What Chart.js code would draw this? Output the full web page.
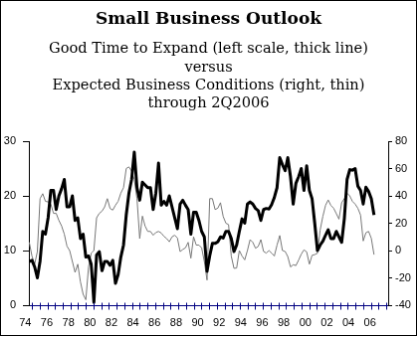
<!DOCTYPE html>
<html>
<head>
<meta charset="utf-8">
<script src="https://cdn.jsdelivr.net/npm/chart.js@4.4.1/dist/chart.umd.min.js"></script>
<style>
  html, body { margin: 0; padding: 0; background: #fff; }
  #myChart { display: block; border: 1px solid #000; }
</style>
</head>
<body>
<canvas id="myChart" width="417" height="336"></canvas>
<script>
// quarterly observations, 1974Q2 .. 2006Q2
var quarters = [];
for (var yr = 1974; yr <= 2006; yr++) {
    for (var q = 1; q <= 4; q++) {
        if ((yr === 1974 && q < 2) || (yr === 2006 && q > 2)) continue;
        quarters.push(yr + 'Q' + q);
    }
}

// "good time to expand", percent (left scale)
var goodTime = [
          8,  8.2,   7,          // 1974
    5,    8,  13.5, 13,          // 1975
    16,   21, 21,   17.5,
    20,   21.3, 23, 18,
    18,   20, 15.5, 16,
    12.2, 13, 8.8,  9,           // 1979
    7.5,  0.5, 9.2, 9.8,
    6.3,  8,  8,    7.3,
    8.2,  4,  5.6,  8.8,
    11,   16.5, 20.5, 23,
    28,   21.5, 19.2, 22.5,      // 1984
    22,   21.5, 21.5, 17.5,
    20.5, 26, 18.3, 19,
    18.3, 20, 18,   16,
    14,   18.5, 19.2, 18.3,
    17.5, 13, 17,   17,          // 1989
    15.5, 13.5, 12.5, 6.2,
    9,    11.3, 11.3, 11.6,
    12.5, 12.3, 13.5, 13.5,
    12.2, 9.8, 11,  13.5,
    15.8, 15, 18.5, 18.9,        // 1994
    18.5, 17.7, 17.3, 15.5,
    17.5, 17.7, 17.6, 18.4,
    19.7, 21.5, 27, 25.7,
    24.6, 27, 23.5, 18.5,
    22.3, 23.5, 25, 21,          // 1999
    25.5, 21, 19.5, 15,
    10,   11, 11.7, 12.8,
    13.8, 12.2, 12.2, 13.5,
    12.5, 11.5, 15.9, 23,
    24.8, 24.7, 25, 21.8,        // 2004
    21,   18.5, 21.6, 20.8,
    19.5, 16.5
];

// expected business conditions, net percent (right scale)
var conditions = [
          6,   -4,  -10,         // 1974
    -0.8, 38,  41.6, 36,
    35.6, 34,  27.2, 27.2,
    22,   18,  12,   3.2,
    0,    -8,  -16,  -10,
    -22.8, -32, -36, -12,        // 1979
    -2,   0,   24,   27.2,
    28.8, 32,  38,   30.8,
    29.6, 33.2, 36,  42,
    46,   60,  61.2, 58,
    52,   38,  8.8,  25.2,       // 1984
    18,   14,  14,   11.2,
    13.2, 14,  12.8, 10.4,
    8.8,  6.4, 10,   11.2,
    9.2,  -0.8, 0.8, 2,
    6,    -5.6, 10,  4,          // 1989
    4,    2,   -8,   -21.6,
    38,   38,  30,   31,
    35,   25,  20,   19,
    -4,   -13, -12.8, 0,
    -4,   -6.8, 0,   8,          // 1994
    6,    1.7, 3,    8,
    -0.7, -1.9, 0,   -1.9,
    -4,   4,   11,   0,
    -0.7, -4.4, -12, -10.4,
    -11,  -7,  -2.7, 0.5,        // 1999
    -1,   -10, -3.5, -3,
    -2,   15,  25,   33,
    37,   33,  31,   27,
    23,   35,  38,   42,
    40,   36,  34,   31,        // 2004
    26,   7,   13,   14,
    9,    -3
];

var yearLabels = ['74','76','78','80','82','84','86','88','90',
                  '92','94','96','98','00','02','04','06'];
var leftTicks = [0, 10, 20, 30];
var rightTicks = [-40, -20, 0, 20, 40, 60, 80];

function quarterToYear(s) {
    var p = s.split('Q');
    return +p[0] + (p[1] - 1) / 4 + 0.125;
}

function toPoints(values) {
    return values.map(function (v, i) { return { x: quarterToYear(quarters[i]), y: v }; });
}

var tickFont = { family: 'Liberation Sans', size: 11 };

// small cross ticks along the date axis
var dateAxisTicks = {
    id: 'dateAxisTicks',
    afterDraw: function (chart) {
        var sx = chart.scales.x;
        var c = chart.ctx;
        var y0 = Math.round(sx.top) + 0.5;
        c.save();
        c.strokeStyle = '#000080';
        c.lineWidth = 1;
        c.beginPath();
        for (var n = 0; n <= 46; n++) {
            var px = Math.round(sx.getPixelForValue(1974.62 + n * 0.715)) + 0.5;
            c.moveTo(px, y0 - 3);
            c.lineTo(px, y0 + 4);
        }
        c.stroke();
        c.restore();
    }
};

var ctx = document.getElementById('myChart').getContext('2d');
var chart = new Chart(ctx, {
    type: 'line',
    data: {
        datasets: [{
            label: 'Good Time to Expand',
            data: toPoints(goodTime),
            yAxisID: 'yL',
            borderColor: '#000',
            borderWidth: 3,
            borderJoinStyle: 'round',
            pointRadius: 0,
            tension: 0
        }, {
            label: 'Expected Business Conditions',
            data: toPoints(conditions),
            yAxisID: 'yR',
            borderColor: '#777',
            borderWidth: 1,
            pointRadius: 0,
            tension: 0
        }]
    },
    options: {
        responsive: false,
        animation: false,
        layout: { padding: 0 },
        plugins: {
            legend: { display: false },
            tooltip: { enabled: false },
            title: {
                display: true,
                text: 'Small Business Outlook',
                color: '#000',
                font: { family: 'DejaVu Serif', size: 17, weight: 'bold', lineHeight: 22 / 17 },
                padding: { top: 8, bottom: 0 }
            },
            subtitle: {
                display: true,
                text: ['Good Time to Expand (left scale, thick line)',
                       'versus',
                       'Expected Business Conditions (right, thin)',
                       'through 2Q2006'],
                color: '#000',
                font: { family: 'DejaVu Serif', size: 14.6, lineHeight: 18.3 / 14.6 },
                padding: { top: 9.5, bottom: 28.3 }
            }
        },
        scales: {
            x: {
                type: 'linear',
                min: 1974.34,
                max: 2007.69,
                afterBuildTicks: function (scale) {
                    scale.ticks = yearLabels.map(function (lab, i) { return { value: 1974.5 + 2 * i }; });
                },
                ticks: {
                    autoSkip: false,
                    maxRotation: 0,
                    labelOffset: -5.4,
                    padding: 11,
                    color: '#000',
                    font: tickFont,
                    callback: function (value, index) { return yearLabels[index]; }
                },
                grid: { display: false, drawTicks: false },
                border: { display: true, color: '#000080', width: 1 },
                afterFit: function (scale) { scale.height = 30; }
            },
            yL: {
                position: 'left',
                min: leftTicks[0],
                max: leftTicks[leftTicks.length - 1],
                ticks: { stepSize: leftTicks[1] - leftTicks[0], padding: 7, color: '#000', font: tickFont },
                grid: { drawOnChartArea: false, tickLength: 6, color: '#000' },
                border: { color: '#000', width: 1 },
                afterFit: function (scale) { scale.width = 28; }
            },
            yR: {
                position: 'right',
                min: rightTicks[0],
                max: rightTicks[rightTicks.length - 1],
                ticks: { stepSize: rightTicks[1] - rightTicks[0], padding: 3, color: '#000', font: tickFont },
                grid: { drawOnChartArea: false, tickLength: 4, color: '#000' },
                border: { color: '#000', width: 1 },
                afterFit: function (scale) { scale.width = 28; }
            }
        }
    },
    plugins: [dateAxisTicks]
});
</script>
</body>
</html>
